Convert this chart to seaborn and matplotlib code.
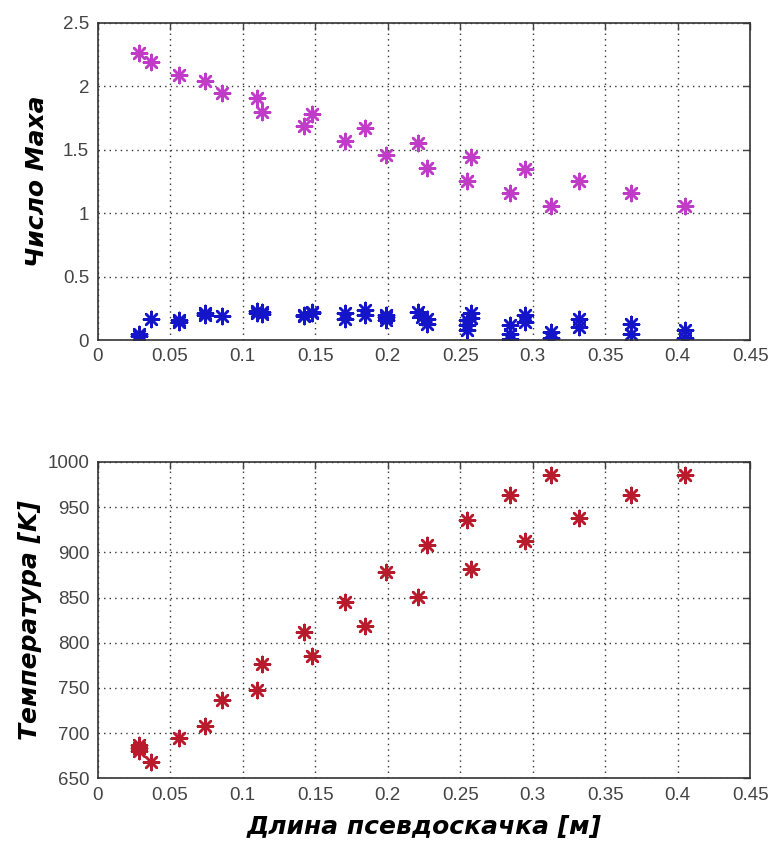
import numpy as np
import matplotlib
matplotlib.use('Agg')
import matplotlib.pyplot as plt
import seaborn as sns
import pandas as pd

sns.set_style('white')
plt.rcParams['font.family'] = ['Liberation Sans Narrow', 'Liberation Sans', 'DejaVu Sans']

# длина псевдоскачка [м]
x_len = [0.0286, 0.037, 0.0564, 0.0744, 0.0857, 0.110, 0.1135, 0.1424, 0.1475, 0.1706, 0.1842,
         0.1988, 0.221, 0.2274, 0.255, 0.2573, 0.2845, 0.2947, 0.3124, 0.332, 0.3678, 0.405]
# число Маха (верхняя ветка)
mach_hi = [2.26, 2.19, 2.09, 2.045, 1.95, 1.91, 1.80, 1.69, 1.78, 1.57, 1.67,
           1.46, 1.55, 1.355, 1.25, 1.44, 1.16, 1.345, 1.06, 1.25, 1.16, 1.06]
# число Маха (нижняя ветка, несколько точек на одну длину)
x_lo = [0.0286, 0.0286, 0.037, 0.0564, 0.0564, 0.0744, 0.0744, 0.0857, 0.110, 0.110, 0.1135, 0.1135,
        0.1424, 0.1424, 0.1475, 0.1475, 0.1706, 0.1706, 0.1842, 0.1842, 0.1988, 0.1988, 0.1988,
        0.221, 0.2235, 0.2274, 0.2274, 0.255, 0.255, 0.255, 0.2573, 0.2573,
        0.2845, 0.2845, 0.2845, 0.2947, 0.2947, 0.3124, 0.3124, 0.332, 0.332,
        0.3678, 0.3678, 0.405, 0.405]
mach_lo = [0.045, 0.03, 0.165, 0.145, 0.155, 0.215, 0.2, 0.19, 0.23, 0.215, 0.205, 0.22,
           0.2, 0.19, 0.225, 0.215, 0.21, 0.17, 0.236, 0.2, 0.2, 0.18, 0.16,
           0.22, 0.185, 0.17, 0.13, 0.16, 0.12, 0.08, 0.21, 0.175,
           0.12, 0.05, 0.01, 0.2, 0.145, 0.06, 0.015, 0.17, 0.105,
           0.13, 0.05, 0.08, 0.02]
# температура [K]
x_temp = x_len + [0.0286, 0.0286]
temp = [684, 668.5, 695, 708, 737, 748, 776, 812, 785, 845, 819,
        878, 851, 908, 936, 882, 963, 912, 986, 938, 963, 986] + [680, 687]

df_hi = pd.DataFrame({'x': x_len, 'y': mach_hi})
df_lo = pd.DataFrame({'x': x_lo, 'y': mach_lo})
df_t = pd.DataFrame({'x': x_temp, 'y': temp})

fig = plt.figure(figsize=(7.68, 8.46), dpi=100)
ax1 = fig.add_axes([0.127, 0.598, 0.850, 0.375])
ax2 = fig.add_axes([0.127, 0.080, 0.850, 0.374])

star = (8, 2, 0)
sns.scatterplot(data=df_hi, x='x', y='y', ax=ax1, marker=star, s=120, color='#c03cc8', linewidth=1.8)
sns.scatterplot(data=df_lo, x='x', y='y', ax=ax1, marker=star, s=120, color='#1414c8', linewidth=1.8)
sns.scatterplot(data=df_t, x='x', y='y', ax=ax2, marker=star, s=120, color='#b81c2c', linewidth=1.8)

ax1.set_xlim(0, 0.45)
ax1.set_ylim(0, 2.5)
ax1.set_yticks([0, 0.5, 1, 1.5, 2, 2.5])
ax1.set_yticklabels(['0', '0.5', '1', '1.5', '2', '2.5'])
ax2.set_xlim(0, 0.45)
ax2.set_ylim(650, 1000)
ax2.set_yticks(np.arange(650, 1001, 50))

xt = np.arange(0, 0.451, 0.05)
xtl = ['0', '0.05', '0.1', '0.15', '0.2', '0.25', '0.3', '0.35', '0.4', '0.45']
for ax in (ax1, ax2):
    ax.set_xticks(xt)
    ax.set_xticklabels(xtl)
    ax.grid(True, linestyle=(0, (1, 3)), color='#333333', linewidth=1.0)
    ax.tick_params(direction='in', length=5, width=1, top=True, right=True,
                   labelsize=13.5, colors='#444444', pad=6)
    for sp in ax.spines.values():
        sp.set_color('#333333')
        sp.set_linewidth(1.2)
    ax.set_xlabel('')
    ax.set_ylabel('')

lab = dict(fontsize=18, fontweight='bold', fontstyle='italic',
           family=['DejaVu Sans'], color='black')
ax1.set_ylabel('Число Маха', labelpad=10, **lab)
ax2.set_ylabel('Температура [K]', labelpad=4, **lab)
ax2.set_xlabel('Длина псевдоскачка [м]', labelpad=8, **lab)

fig.savefig('out.png', dpi=100)
